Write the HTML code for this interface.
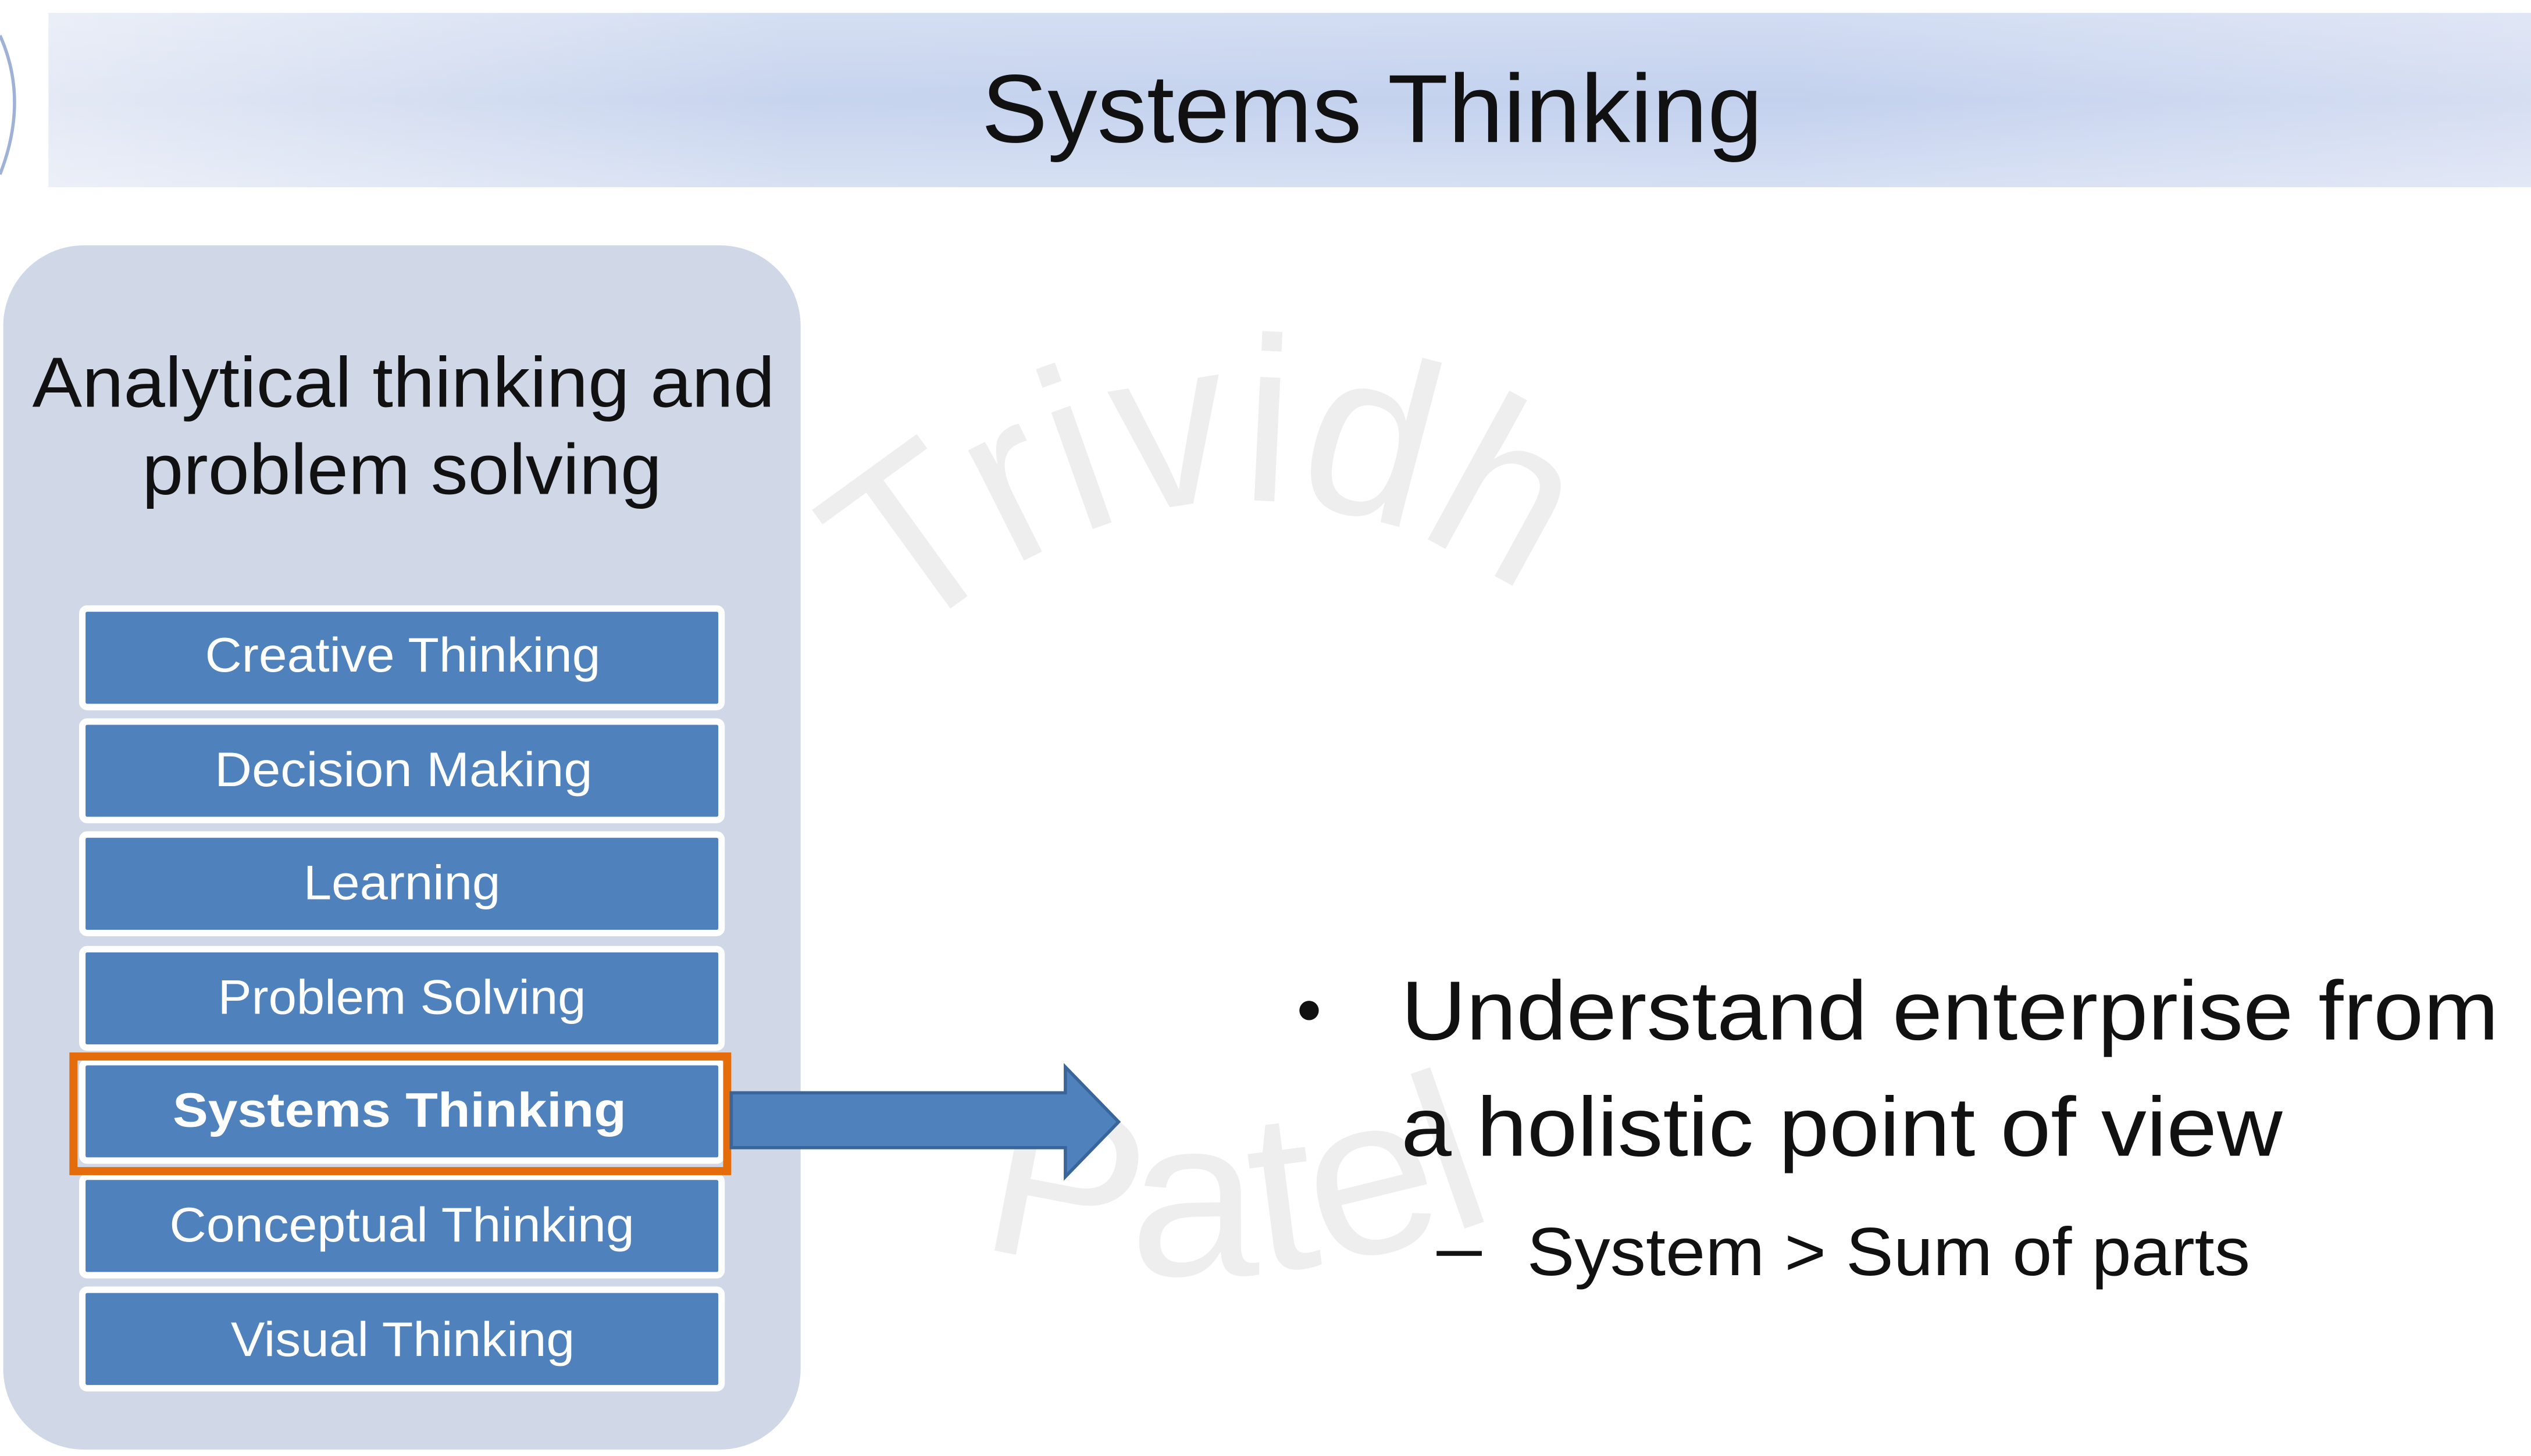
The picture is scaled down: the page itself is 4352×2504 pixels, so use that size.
<!DOCTYPE html>
<html><head><meta charset="utf-8"><style>
html,body{margin:0;padding:0;background:#fff;}
svg{display:block;}
</style></head><body>
<svg width="4352" height="2504" viewBox="0 0 1568 902" preserveAspectRatio="none" xmlns="http://www.w3.org/2000/svg" font-family="Liberation Sans, sans-serif">
<defs>
<linearGradient id="tb" x1="0" x2="1" y1="0" y2="0">
<stop offset="0" stop-color="#e4e9f5"/><stop offset="0.3" stop-color="#c7d4ee"/><stop offset="0.7" stop-color="#c3d1ee"/><stop offset="1" stop-color="#d6def2"/>
</linearGradient>
<linearGradient id="tbv" x1="0" x2="0" y1="0" y2="1">
<stop offset="0" stop-color="#fff" stop-opacity="0.25"/><stop offset="0.5" stop-color="#fff" stop-opacity="0"/><stop offset="1" stop-color="#fff" stop-opacity="0.3"/>
</linearGradient>
<path id="arc1" d="M 560 400 Q 770 220 985 400"/>
<path id="arc2" d="M 605 770 Q 770 820 950 745"/>
</defs>
<rect width="1568" height="902" fill="#fff"/>
<rect x="30" y="8" width="1538" height="108" fill="url(#tb)"/>
<rect x="30" y="8" width="1538" height="108" fill="url(#tbv)"/>
<path d="M 0 22 Q 18 62 0 108" fill="none" stroke="#9fb1d6" stroke-width="2"/>
<text x="608" y="88" font-size="60" fill="#111" textLength="484" lengthAdjust="spacingAndGlyphs">Systems Thinking</text>

<text font-size="145" fill="#eeeeee"><textPath href="#arc1" textLength="420" lengthAdjust="spacingAndGlyphs">Trividh</textPath></text>
<text font-size="140" fill="#eeeeee"><textPath href="#arc2" textLength="330" lengthAdjust="spacingAndGlyphs">Patel</textPath></text>

<rect x="2" y="152" width="494" height="746" rx="50" fill="#d0d8e8"/>
<text x="20" y="252" font-size="44" fill="#111" textLength="460" lengthAdjust="spacingAndGlyphs">Analytical thinking and</text>
<text x="88" y="306" font-size="44" fill="#111" textLength="322" lengthAdjust="spacingAndGlyphs">problem solving</text>

<g fill="#4f81bd" stroke="#fff" stroke-width="4">
<rect x="51" y="377" width="396" height="61" rx="3"/>
<rect x="51" y="447" width="396" height="61" rx="3"/>
<rect x="51" y="517" width="396" height="61" rx="3"/>
<rect x="51" y="588" width="396" height="61" rx="3"/>
<rect x="51" y="658" width="396" height="61" rx="3"/>
<rect x="51" y="729" width="396" height="61" rx="3"/>
<rect x="51" y="799" width="396" height="61" rx="3"/>
</g>
<rect x="45.5" y="654.5" width="405" height="71" fill="none" stroke="#e46c0a" stroke-width="5"/>
<g fill="#fff" font-size="30">
<text x="127" y="416" textLength="245" lengthAdjust="spacingAndGlyphs">Creative Thinking</text>
<text x="133" y="487" textLength="234" lengthAdjust="spacingAndGlyphs">Decision Making</text>
<text x="188" y="557" textLength="122" lengthAdjust="spacingAndGlyphs">Learning</text>
<text x="135" y="628" textLength="228" lengthAdjust="spacingAndGlyphs">Problem Solving</text>
<text x="107" y="698" font-weight="bold" textLength="281" lengthAdjust="spacingAndGlyphs">Systems Thinking</text>
<text x="105" y="769" textLength="288" lengthAdjust="spacingAndGlyphs">Conceptual Thinking</text>
<text x="143" y="840" textLength="213" lengthAdjust="spacingAndGlyphs">Visual Thinking</text>
</g>

<path d="M 453 677 L 660 677 L 660 661 L 693 695 L 660 729 L 660 711 L 453 711 Z" fill="#4f81bd" stroke="#3a659a" stroke-width="2"/>

<circle cx="811" cy="626" r="6" fill="#111"/>
<text x="868" y="644" font-size="52" fill="#111" textLength="680" lengthAdjust="spacingAndGlyphs">Understand enterprise from</text>
<text x="868" y="716" font-size="52" fill="#111" textLength="546" lengthAdjust="spacingAndGlyphs">a holistic point of view</text>
<rect x="890" y="775" width="28" height="3" fill="#111"/>
<text x="946" y="790" font-size="42" fill="#111" textLength="448" lengthAdjust="spacingAndGlyphs">System &gt; Sum of parts</text>
</svg>
</body></html>
